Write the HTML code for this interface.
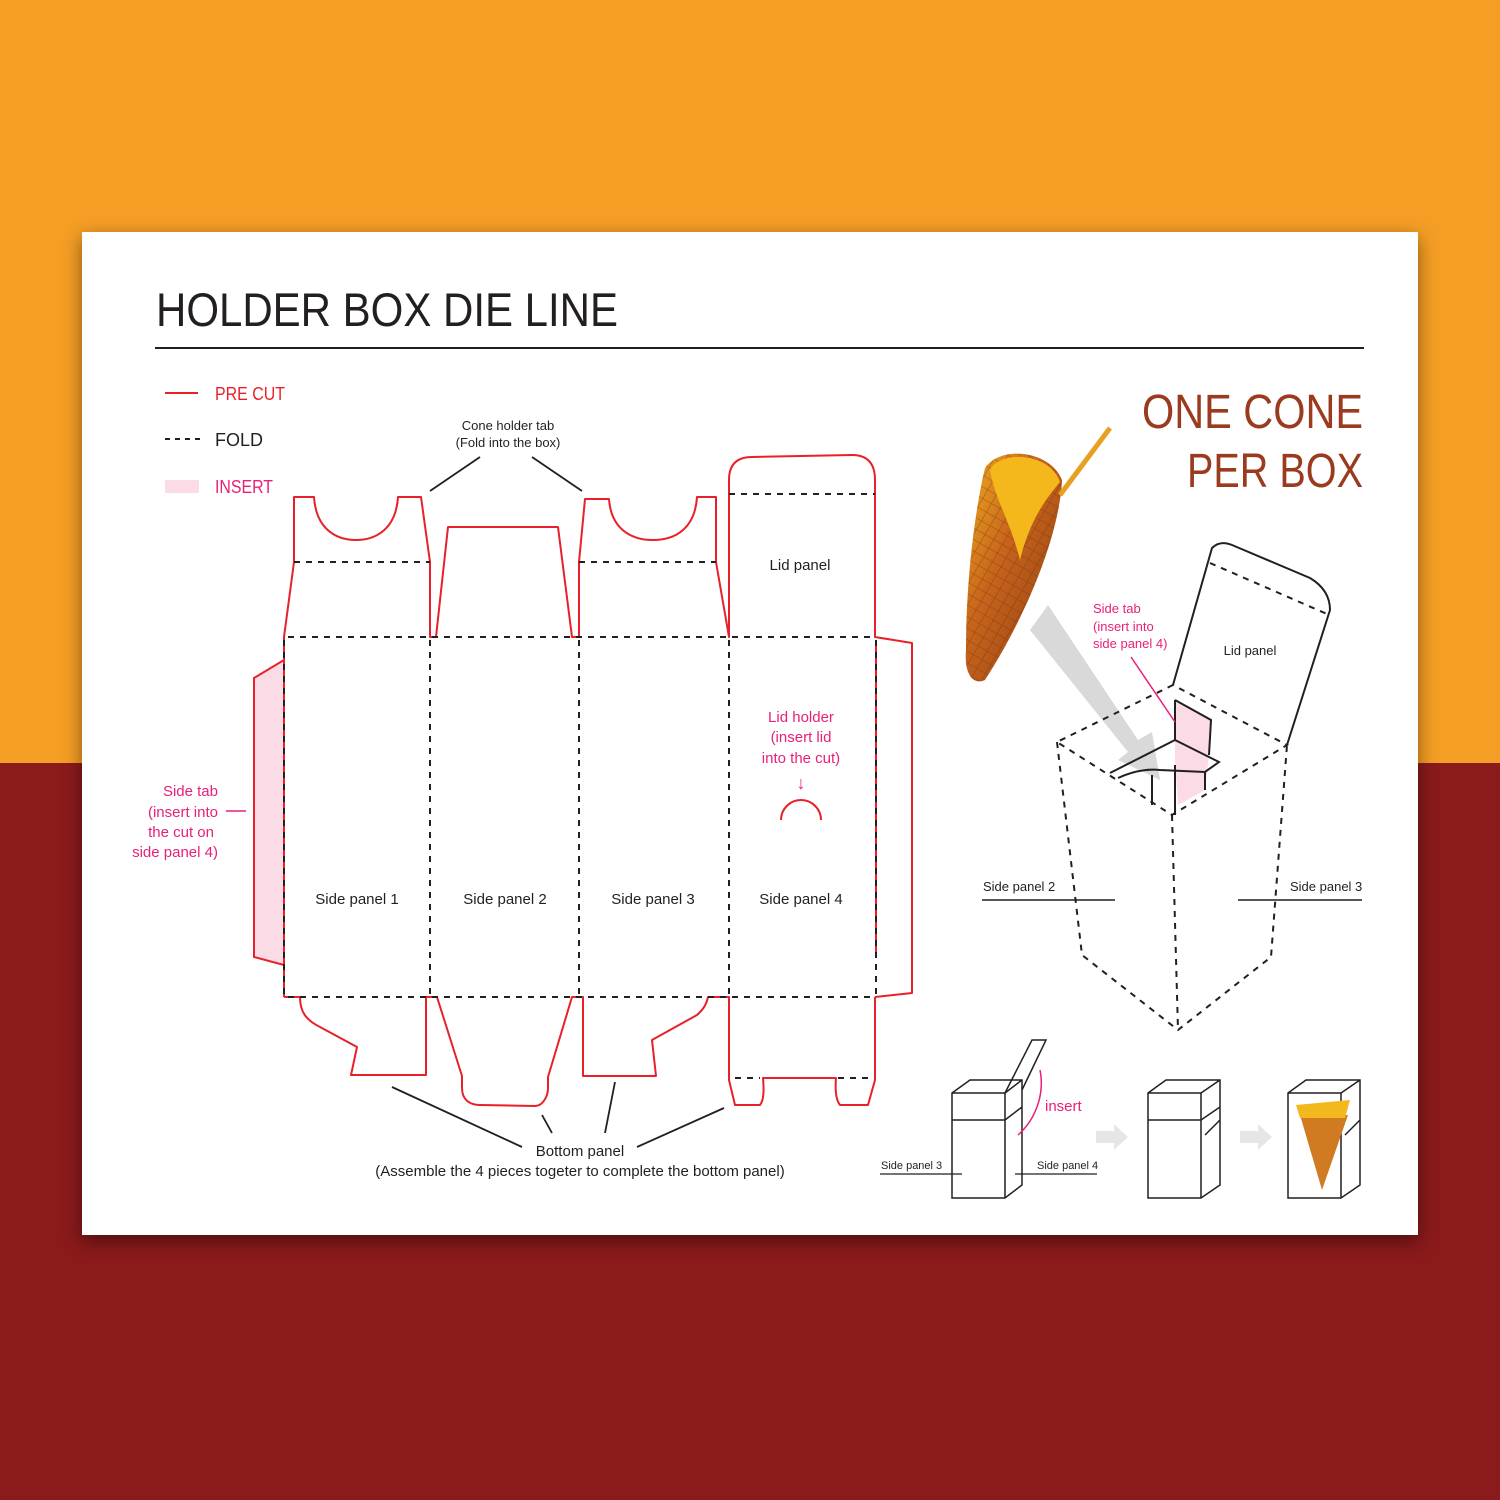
<!DOCTYPE html>
<html><head><meta charset="utf-8"><style>
html,body{margin:0;padding:0}
body{width:1500px;height:1500px;position:relative;overflow:hidden;background:#8b1a1b;font-family:"Liberation Sans",sans-serif}
.top{position:absolute;left:0;top:0;width:1500px;height:763px;background:#f59e25}
.card{position:absolute;left:82px;top:232px;width:1336px;height:1003px;background:#fff;box-shadow:0 6px 18px rgba(0,0,0,.45)}
svg{position:absolute;left:0;top:0}
</style></head><body>
<div class="top"></div>
<div class="card"></div>
<svg width="1500" height="1500" viewBox="0 0 1500 1500" font-family="Liberation Sans, sans-serif">
<defs>
<linearGradient id="cone" x1="0" y1="0" x2="1" y2="1">
<stop offset="0" stop-color="#f0b020"/><stop offset=".4" stop-color="#c8651c"/><stop offset="1" stop-color="#8a3a12"/>
</linearGradient>
<pattern id="waf" width="10" height="10" patternUnits="userSpaceOnUse" patternTransform="rotate(30)">
<rect width="10" height="10" fill="none"/><path d="M0 0H10M0 0V10" stroke="#7a300c" stroke-width="1.3" opacity=".5"/>
</pattern>
</defs>
<text x="156" y="326" font-size="47" fill="#231f20" textLength="462" lengthAdjust="spacingAndGlyphs">HOLDER BOX DIE LINE</text>
<line x1="155" y1="348" x2="1364" y2="348" stroke="#231f20" stroke-width="2"/>
<text x="1142" y="428" font-size="48" fill="#9a3a1e" textLength="221" lengthAdjust="spacingAndGlyphs">ONE CONE</text>
<text x="1187" y="487" font-size="48" fill="#9a3a1e" textLength="176" lengthAdjust="spacingAndGlyphs">PER BOX</text>
<!-- legend -->
<line x1="165" y1="393" x2="198" y2="393" stroke="#e8202a" stroke-width="2"/>
<text x="215" y="400" font-size="18" fill="#e8202a" textLength="70" lengthAdjust="spacingAndGlyphs">PRE CUT</text>
<line x1="165" y1="439" x2="200" y2="439" stroke="#231f20" stroke-width="2" stroke-dasharray="5,5"/>
<text x="215" y="446" font-size="18" fill="#231f20">FOLD</text>
<rect x="165" y="480" width="34" height="13" fill="#fadbe6"/>
<text x="215" y="493" font-size="18" fill="#e8207a" textLength="58" lengthAdjust="spacingAndGlyphs">INSERT</text>
<!-- side tab left -->
<path d="M284 660 L254 678 L254 957 L284 965" fill="#fadbe6" stroke="#e8202a" stroke-width="2"/>
<!-- cuts -->
<g fill="none" stroke="#e8202a" stroke-width="2" stroke-linejoin="round">
<path d="M284 997 L284 637 L294 562 L294 497 L314 497 C316 528 335 540 356 540 C377 540 396 528 398 497 L421 497 L430 562 L430 637 L436 637 L448 527 L558 527 L572 637 L579 637 L579 562 L585 499 L609 499 C611 528 630 540 653 540 C676 540 695 528 697 497 L716 497 L716 562 L729 637 L729 480 Q729 457 752 457 L852 455 Q875 455 875 480 L875 637 L912 643 L912 993 L875 997"/>
<path d="M876 645 L876 955"/>
<path d="M284 997 L300 997 C300 1012 306 1020 320 1027 L357 1047 L351 1075 L426 1075 L426 997 L437 997 L462 1076 L462 1088 C462 1100 470 1105 480 1105 L535 1106 C543 1106 548 1096 548 1088 L548 1077 L572 997 L583 997 L583 1076 L656 1076 L652 1040 L697 1015 C705 1008 707 1002 708 997 L729 997 L729 1080 L735 1105 L760 1105 C764 1100 764 1090 763 1078 L836 1078 C835 1090 836 1100 840 1105 L868 1105 L875 1080 L875 997"/>
</g>
<!-- folds -->
<g fill="none" stroke="#231f20" stroke-width="2" stroke-dasharray="6,6">
<path d="M288 637 H876 M288 997 H876 M294 562 H430 M579 562 H716 M729 494 H875"/>
<path d="M430 640 V997 M579 640 V997 M729 640 V997 M876 640 V997 M284 640 V997"/>
<path d="M735 1078 H760 M838 1078 H872"/>
</g>
<!-- lid holder -->
<path d="M781 820 A20 20 0 0 1 821 820" fill="none" stroke="#e8202a" stroke-width="2"/>
<g font-size="15" fill="#e8207a" text-anchor="middle">
<text x="801" y="722">Lid holder</text><text x="801" y="742">(insert lid</text><text x="801" y="763">into the cut)</text>
<text x="801" y="789" font-size="18">↓</text>
</g>
<g font-size="15" fill="#e8207a" text-anchor="end">
<text x="218" y="796">Side tab</text><text x="218" y="817">(insert into</text><text x="214" y="837">the cut on</text><text x="218" y="857">side panel 4)</text>
</g>
<line x1="226" y1="811" x2="246" y2="811" stroke="#e8207a" stroke-width="1.5"/>
<g font-size="15" fill="#231f20" text-anchor="middle">
<text x="357" y="904">Side panel 1</text><text x="505" y="904">Side panel 2</text><text x="653" y="904">Side panel 3</text><text x="801" y="904">Side panel 4</text>
<text x="800" y="570">Lid panel</text>
<text x="508" y="430" font-size="13">Cone holder tab</text><text x="508" y="447" font-size="13">(Fold into the box)</text>
<text x="580" y="1156">Bottom panel</text>
<text x="580" y="1176">(Assemble the 4 pieces togeter to complete the bottom panel)</text>
</g>
<g stroke="#231f20" stroke-width="1.8">
<line x1="480" y1="457" x2="430" y2="491"/><line x1="532" y1="457" x2="582" y2="491"/>
<line x1="392" y1="1087" x2="522" y2="1147"/><line x1="542" y1="1115" x2="552" y2="1133"/>
<line x1="615" y1="1082" x2="605" y2="1133"/><line x1="724" y1="1108" x2="637" y2="1147"/>
</g>
<!-- cone -->
<path d="M985 468 C1000 445 1050 450 1062 480 C1060 530 1030 610 985 680 C972 686 964 672 966 650 C966 580 975 510 985 468Z" fill="url(#cone)"/>
<path d="M985 468 C1000 445 1050 450 1062 480 C1060 530 1030 610 985 680 C972 686 964 672 966 650 C966 580 975 510 985 468Z" fill="url(#waf)"/>
<path d="M990 470 C1000 450 1050 452 1060 482 C1045 500 1030 520 1020 560 C1010 520 995 500 990 470Z" fill="#f5b81c"/>
<line x1="1060" y1="495" x2="1110" y2="428" stroke="#e8a020" stroke-width="5"/>
<!-- gray arrow -->
<polygon points="1030,630 1048,605 1138,740 1152,732 1160,780 1118,760 1128,752" fill="#d5d5d5" opacity=".9"/>
<!-- 3D box -->
<path d="M1175 700 L1211 720 L1209 755 L1205 790 L1178 805 L1175 760Z" fill="#fadbe6"/>
<g fill="none" stroke="#231f20" stroke-width="2">
<path d="M1173 685 L1212 548 Q1220 540 1232 545 L1310 578 Q1330 590 1330 610 L1287 745"/>
<path d="M1175 700 L1175 740 M1175 700 L1211 720 L1209 755 M1110 773 L1175 740 L1219 762 L1205 772 L1160 770 Q1140 768 1118 778 M1152 775 L1152 805 M1175 765 L1175 815 M1205 772 L1205 790"/>
</g>
<g fill="none" stroke="#231f20" stroke-width="2" stroke-dasharray="6,6">
<path d="M1210 563 L1327 614"/>
<path d="M1173 685 L1057 742 L1172 815 L1287 745 Z"/>
<path d="M1057 742 L1082 955 L1178 1030 L1271 957 L1287 745 M1172 815 L1178 1030"/>
</g>
<text x="1250" y="655" font-size="13" fill="#231f20" text-anchor="middle">Lid panel</text>
<g font-size="13" fill="#e8207a"><text x="1093" y="613">Side tab</text><text x="1093" y="631">(insert into</text><text x="1093" y="648">side panel 4)</text></g>
<line x1="1131" y1="657" x2="1175" y2="722" stroke="#e8207a" stroke-width="1.5"/>
<g font-size="13" fill="#231f20"><text x="983" y="891">Side panel 2</text><text x="1290" y="891">Side panel 3</text></g>
<g stroke="#231f20" stroke-width="1.5"><line x1="982" y1="900" x2="1115" y2="900"/><line x1="1238" y1="900" x2="1362" y2="900"/></g>
<!-- small boxes -->
<g fill="none" stroke="#231f20" stroke-width="1.5">
<path d="M952 1093 L970 1080 L1022 1080 L1022 1185 L1005 1198 L952 1198 Z M952 1093 L1005 1093 L1005 1198 M1005 1093 L1022 1080 M952 1120 L1005 1120 L1022 1107"/>
<path d="M1005 1093 L1032 1040 L1046 1040 L1022 1090"/>
<path d="M1148 1093 L1166 1080 L1220 1080 L1220 1185 L1201 1198 L1148 1198 Z M1148 1093 L1201 1093 L1201 1198 M1201 1093 L1220 1080 M1148 1120 L1201 1120 L1220 1107 M1220 1120 L1205 1135"/>
<path d="M1288 1093 L1306 1080 L1360 1080 L1360 1185 L1341 1198 L1288 1198 Z M1288 1093 L1341 1093 L1341 1198 M1341 1093 L1360 1080 M1360 1120 L1345 1135"/>
</g>
<path d="M1040 1070 C1045 1095 1035 1120 1018 1135" fill="none" stroke="#e8207a" stroke-width="1.5"/>
<path d="M1300 1115 L1348 1115 L1322 1190 Z" fill="#d07a22"/>
<path d="M1296 1105 L1350 1100 L1345 1118 L1300 1118 Z" fill="#f2b81e"/>
<text x="1045" y="1111" font-size="15" fill="#e8207a">insert</text>
<g font-size="11" fill="#231f20"><text x="881" y="1169">Side panel 3</text><text x="1037" y="1169">Side panel 4</text></g>
<g stroke="#231f20" stroke-width="1.2"><line x1="880" y1="1174" x2="962" y2="1174"/><line x1="1015" y1="1174" x2="1097" y2="1174"/></g>
<g fill="#e6e6e6"><polygon points="1096,1131 1114,1131 1114,1124 1128,1137 1114,1150 1114,1143 1096,1143"/><polygon points="1240,1131 1258,1131 1258,1124 1272,1137 1258,1150 1258,1143 1240,1143"/></g>
</svg>
</body></html>
